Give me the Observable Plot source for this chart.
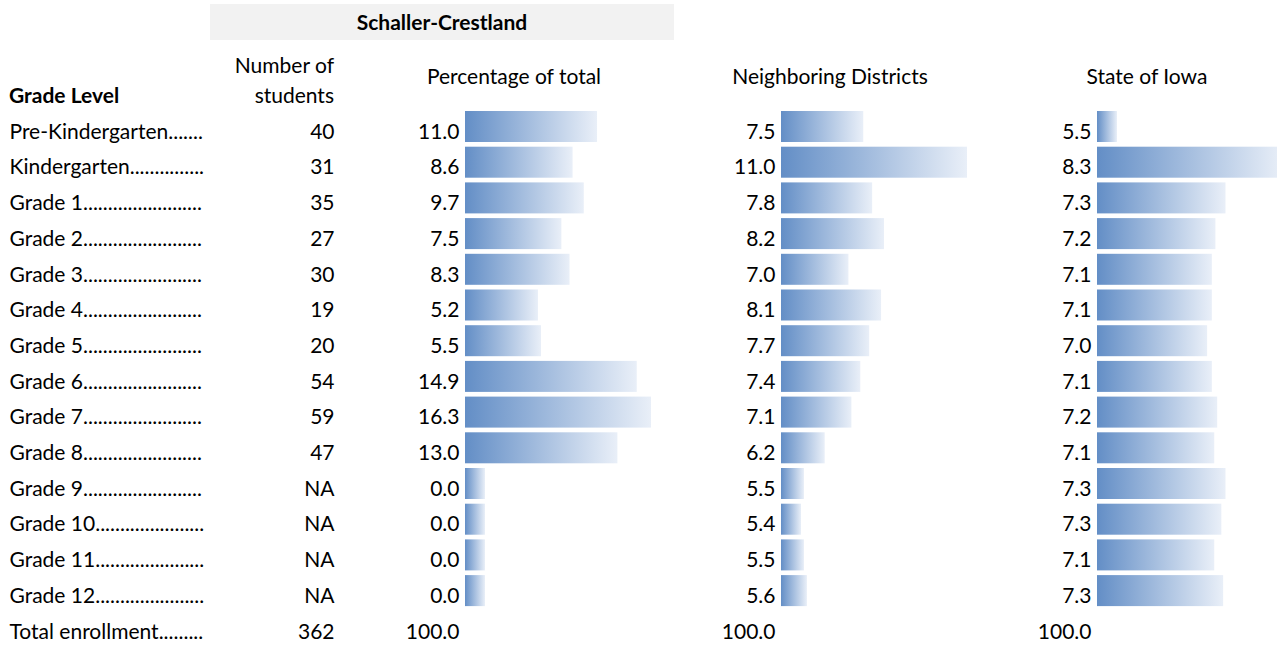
<!DOCTYPE html>
<html>
<head>
<meta charset="utf-8">
<script src="https://cdn.jsdelivr.net/npm/d3@7"></script>
<script src="https://cdn.jsdelivr.net/npm/@observablehq/plot@0.6"></script>
<style>
  html, body { margin: 0; padding: 0; background: #fff; overflow: hidden; }
  #root { position: relative; width: 1277px; height: 646px; overflow: hidden; font-family: Lato, "Open Sans", sans-serif; }
  #header { position: absolute; left: 0; top: 0; }
  .col { position: absolute; top: 109px; line-height: 0; }
  .col svg { overflow: visible; max-width: none !important; display: block; }
</style>
</head>
<body>
<div id="root">
  <svg id="header" width="1277" height="109" font-family="Lato, 'Open Sans', sans-serif" font-size="21" fill="#000">
    <rect x="210" y="4" width="464" height="36" fill="#f2f2f2"></rect>
    <text x="442" y="30" text-anchor="middle" font-weight="bold">Schaller-Crestland</text>
    <text x="334" y="73" text-anchor="end">Number of</text>
    <text x="334" y="103" text-anchor="end">students</text>
    <text x="9" y="103" font-weight="bold">Grade Level</text>
    <text x="514" y="84" text-anchor="middle">Percentage of total</text>
    <text x="830" y="84" text-anchor="middle">Neighboring Districts</text>
    <text x="1147" y="84" text-anchor="middle">State of Iowa</text>
  </svg>
</div>
<script>
// ---- data ----
const grades = ["Pre-Kindergarten", "Kindergarten", "Grade 1", "Grade 2", "Grade 3", "Grade 4", "Grade 5",
  "Grade 6", "Grade 7", "Grade 8", "Grade 9", "Grade 10", "Grade 11", "Grade 12"];
const totalLabel = "Total enrollment";
const students = [40, 31, 35, 27, 30, 19, 20, 54, 59, 47, null, null, null, null];
const studentsTotal = 362;
const pctTotal = [11.0, 8.6, 9.7, 7.5, 8.3, 5.2, 5.5, 14.9, 16.3, 13.0, 0.0, 0.0, 0.0, 0.0];
const neighboring = [7.5, 11.0, 7.8, 8.2, 7.0, 8.1, 7.7, 7.4, 7.1, 6.2, 5.5, 5.4, 5.5, 5.6];
const stateIowa = [5.5, 8.3, 7.33, 7.16, 7.10, 7.10, 7.02, 7.10, 7.19, 7.14, 7.33, 7.26, 7.14, 7.29];
const columnTotal = 100.0;

// ---- layout ----
const rows = [...grades, totalLabel];
const rowH = 35.7;
const bodyH = rows.length * rowH;
const FONT = "Lato, 'Open Sans', sans-serif";
const FS = 21;
const DY = 4.7;
const root = document.getElementById("root");

function place(node, left, width) {
  const div = document.createElement("div");
  div.className = "col";
  div.style.left = left + "px";
  div.style.width = width + "px";
  div.appendChild(node);
  root.appendChild(div);
}

const yScale = {type: "band", domain: rows, range: [0, bodyH], padding: 0, round: false};
const base = {height: Math.ceil(bodyH) + 1, marginTop: 0, marginBottom: 0, marginLeft: 0, marginRight: 0,
  style: {fontFamily: FONT, fontSize: FS + "px", background: "transparent", color: "#000"}};

// dot leaders sized to fill the label cell
const ctx = document.createElement("canvas").getContext("2d");
ctx.font = `${FS}px Lato`;
function withDots(label, maxW) {
  let s = label;
  while (ctx.measureText(s + ".").width <= maxW) s += ".";
  return s;
}
const labelData = rows.map(r => ({row: r, text: withDots(r, 195)}));
place(Plot.plot({
  ...base, width: 207,
  x: {axis: null}, y: {...yScale, axis: null},
  marks: [
    Plot.text(labelData, {y: "row", text: "text", frameAnchor: "left", textAnchor: "start", dx: 9, dy: DY,
      fontSize: FS, fill: "#000"})
  ]
}), 0, 207);

// Number of students column
const countData = rows.map((r, i) => ({row: r, text: i < grades.length ? (students[i] == null ? "NA" : String(students[i])) : String(studentsTotal)}));
place(Plot.plot({
  ...base, width: 130,
  x: {axis: null}, y: {...yScale, axis: null},
  marks: [
    Plot.text(countData, {y: "row", text: "text", frameAnchor: "right", textAnchor: "end", dx: -3, dy: DY,
      fontSize: FS, fill: "#000"})
  ]
}), 207, 130);

// Data-bar columns (Excel-style: lowest value -> short bar, highest -> long bar)
function barColumn(values, left, id) {
  const cellW = 207, minLen = 20, maxLen = 186, labelW = 128;
  const [mn, mx] = d3.extent(values);
  const s = (maxLen - minLen) / (mx - mn);
  const lo = mn - minLen / s;
  const hi = lo + cellW / s;
  const data = grades.map((g, i) => ({row: g, value: values[i]}));
  const textData = [...data, {row: totalLabel, value: columnTotal}];
  const gradient = () => {
    const defs = d3.create("svg:defs");
    const lg = defs.append("linearGradient").attr("id", id)
      .attr("x1", "0").attr("x2", "1").attr("y1", "0").attr("y2", "0");
    lg.append("stop").attr("offset", "0%").attr("stop-color", "#638ec6");
    lg.append("stop").attr("offset", "100%").attr("stop-color", "#e9eff8");
    return defs.node();
  };
  place(Plot.plot({
    ...base, width: labelW + cellW, marginLeft: labelW,
    x: {domain: [lo, hi], axis: null},
    y: {...yScale, axis: null},
    marks: [
      gradient,
      Plot.barX(data, {y: "row", x1: () => lo, x2: "value", fill: `url(#${id})`, insetTop: 2, insetBottom: 2.7}),
      Plot.text(textData, {y: "row", x: () => lo, text: d => d.value.toFixed(1), textAnchor: "end", dx: -6, dy: DY,
        fontSize: FS, fill: "#000"})
    ]
  }), left - labelW, labelW + cellW);
}

barColumn(pctTotal, 465, "gradPct");
barColumn(neighboring, 781, "gradNb");
barColumn(stateIowa, 1097, "gradSt");
</script>
</body>
</html>
